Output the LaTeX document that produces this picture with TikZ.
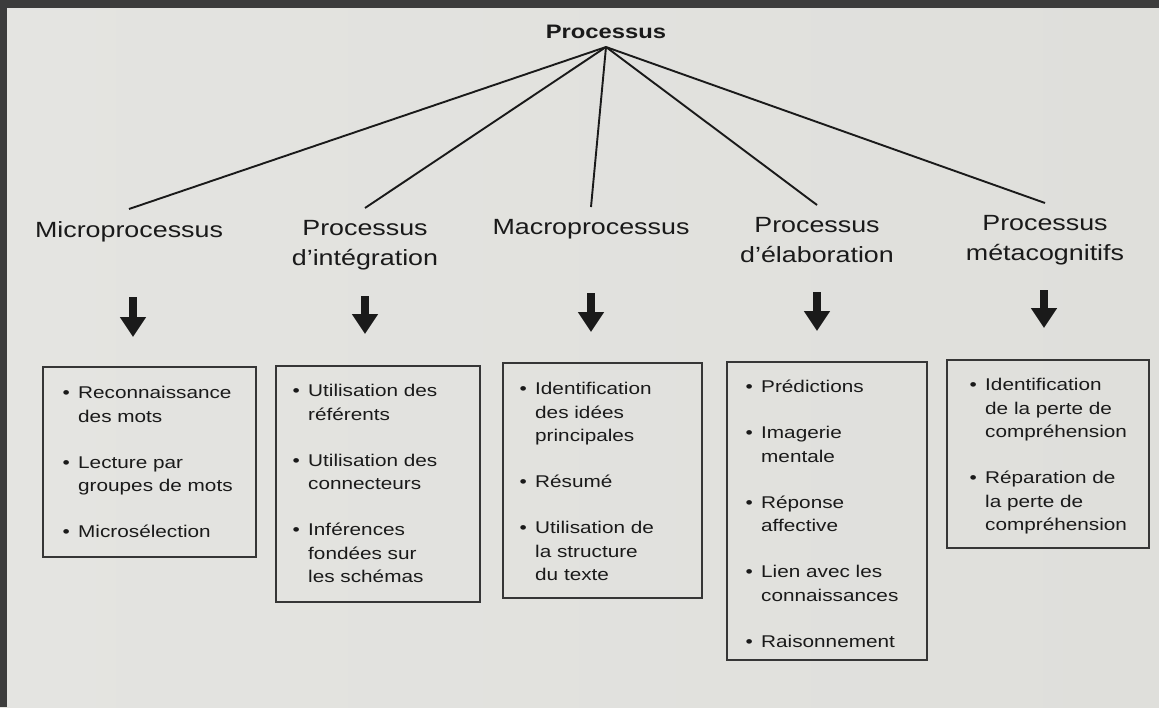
\documentclass[tikz,border=0pt]{standalone}
\usepackage{fontspec}
\setmainfont{Liberation Sans}[FakeStretch=1.22]
\usetikzlibrary{arrows.meta}
\definecolor{ink}{HTML}{1A1A1A}
\definecolor{boxline}{HTML}{363636}
\definecolor{bgleft}{HTML}{E4E4E1}
\definecolor{bgmid}{HTML}{F3F3F1}
\definecolor{bgright}{HTML}{DFDFDB}
\definecolor{edge}{HTML}{3C3C3C}
\newcommand{\itb}{\makebox[15.5pt][l]{\textbullet}}
\newcommand{\itc}{\hspace*{15.5pt}}
\begin{document}
\begin{tikzpicture}[x=1pt,y=-1pt,
  heading/.style={font=\fontsize{22}{30}\selectfont, text=ink, align=center, anchor=north, inner xsep=0pt, inner ysep=12pt},
  branch/.style={draw=ink, line width=1.9pt},
  bigarrow/.style={draw=ink, line width=8.5pt, -{Triangle[width=25pt,length=20pt]}},
  itemtext/.style={font=\fontsize{17}{23.5}\selectfont, text=ink, align=left, anchor=north west, inner sep=0pt},
  framebox/.style={draw=boxline, line width=1.4pt, inner sep=0pt, outer sep=0pt, anchor=north west}]
\useasboundingbox (0,0) rectangle (1159,707);
\shade[left color=bgleft, middle color=bgmid, right color=bgright] (0,0) rectangle (1159,707);
\fill[edge] (0,0) rectangle (1159,8);
\fill[edge] (0,0) rectangle (7,707);

% title
\node[font=\fontsize{19.5}{24}\selectfont\bfseries, text=ink, anchor=south, inner xsep=0pt, inner ysep=8pt] (top) at (606,47) {Processus};

% headings
\node[heading] (h1) at (129,209) {Microprocessus};
\node[heading] (h2) at (365,208) {Processus\\d'intégration};
\node[heading] (h3) at (591,207) {Macroprocessus};
\node[heading] (h4) at (817,205) {Processus\\d'élaboration};
\node[heading] (h5) at (1045,203) {Processus\\métacognitifs};

\foreach \h in {h1,h2,h3,h4,h5} \draw[branch] (top.south) -- (\h.north);

% arrows
\coordinate (a1s) at (133,297); \coordinate (a1e) at (133,337);
\coordinate (a2s) at (365,296); \coordinate (a2e) at (365,334);
\coordinate (a3s) at (591,293); \coordinate (a3e) at (591,332);
\coordinate (a4s) at (817,292); \coordinate (a4e) at (817,331);
\coordinate (a5s) at (1044,290); \coordinate (a5e) at (1044,328);
\foreach \a in {1,...,5} \draw[bigarrow] (a\a s) -- (a\a e);

% boxes
\node[framebox, minimum width=213pt, minimum height=190pt] (b1) at (43,367) {};
\node[framebox, minimum width=204pt, minimum height=236pt] (b2) at (276,366) {};
\node[framebox, minimum width=199pt, minimum height=235pt] (b3) at (503,363) {};
\node[framebox, minimum width=200pt, minimum height=298pt] (b4) at (727,362) {};
\node[framebox, minimum width=202pt, minimum height=188pt] (b5) at (947,360) {};

% box texts
\node[itemtext] (t1) at (62.5,382.05) {\strut\itb Reconnaissance\\ \itc des mots\\[22.5pt]
  \itb Lecture par\\ \itc groupes de mots\\[22.5pt]
  \itb Microsélection};
\node[itemtext] (t2) at (292.5,380.05) {\strut\itb Utilisation des\\ \itc référents\\[22.5pt]
  \itb Utilisation des\\ \itc connecteurs\\[22.5pt]
  \itb Inférences\\ \itc fondées sur\\ \itc les schémas};
\node[itemtext] (t3) at (519.5,378.05) {\strut\itb Identification\\ \itc des idées\\ \itc principales\\[22.5pt]
  \itb Résumé\\[22.5pt]
  \itb Utilisation de\\ \itc la structure\\ \itc du texte};
\node[itemtext] (t4) at (745.5,376.05) {\strut\itb Prédictions\\[22.5pt]
  \itb Imagerie\\ \itc mentale\\[22.5pt]
  \itb Réponse\\ \itc affective\\[22.5pt]
  \itb Lien avec les\\ \itc connaissances\\[22.5pt]
  \itb Raisonnement};
\node[itemtext] (t5) at (969.5,374.05) {\strut\itb Identification\\ \itc de la perte de\\ \itc compréhension\\[22.5pt]
  \itb Réparation de\\ \itc la perte de\\ \itc compréhension};
\end{tikzpicture}
\end{document}
